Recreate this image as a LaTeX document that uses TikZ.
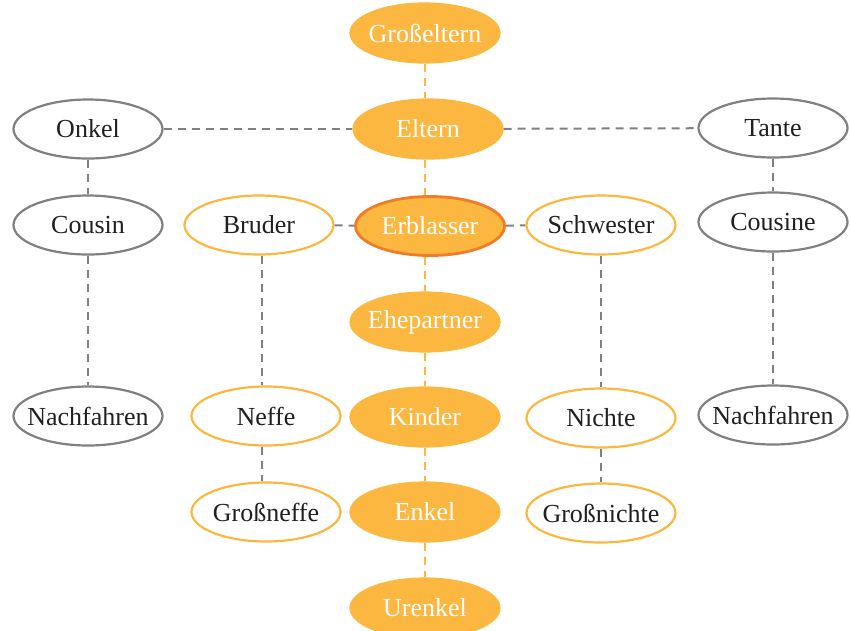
\documentclass[tikz,border=0pt]{standalone}
\usepackage{fontspec}
\setmainfont{Liberation Serif}
\usetikzlibrary{shapes.geometric}
\definecolor{ofill}{HTML}{FBB740}
\definecolor{oline}{HTML}{FBB740}
\definecolor{redline}{HTML}{F07C28}
\definecolor{gline}{HTML}{808080}
\definecolor{tdark}{HTML}{231F20}
\newcommand{\zb}[1]{\makebox[0pt][c]{#1}}
\tikzset{
  pers/.style={ellipse, minimum width=149, minimum height=59, inner sep=0pt, line width=2.2pt, font=\fontsize{26}{30}\selectfont},
  grayp/.style={pers, draw=gline, text=tdark, fill=white},
  openp/.style={pers, draw=oline, text=tdark, fill=white},
  fullp/.style={pers, draw=ofill, fill=ofill, text=white},
  selfp/.style={pers, draw=redline, fill=ofill, text=white, line width=2.8pt},
  gdash/.style={draw=gline, line width=2pt, dash pattern=on 8pt off 6pt},
  odash/.style={draw=oline, line width=2pt, dash pattern=on 8pt off 6pt},
}
\begin{document}
\begin{tikzpicture}[x=1pt,y=-1pt]
\useasboundingbox (0,0) rectangle (851,630);
\node[fullp] (gross) at (425,33) {\zb{Großeltern}};
\node[fullp] (eltern) at (428,129) {\zb{Eltern}};
\node[selfp] (erb) at (430,226) {\zb{Erblasser}};
\node[fullp] (ehe) at (425,322) {\zb{Ehepartner}};
\node[fullp] (kinder) at (425,417) {\zb{Kinder}};
\node[fullp] (enkel) at (425,512) {\zb{Enkel}};
\node[fullp] (urenkel) at (425,608) {\zb{Urenkel}};
\node[grayp] (onkel) at (88,129) {\zb{Onkel}};
\node[grayp] (cousin) at (88,225) {\zb{Cousin}};
\node[grayp] (nachl) at (88,416) {\zb{Nachfahren}};
\node[grayp] (tante) at (773,128) {\zb{Tante}};
\node[grayp] (cousine) at (773,222) {\zb{Cousine}};
\node[grayp] (nachr) at (773,415) {\zb{Nachfahren}};
\node[openp] (bruder) at (259,225) {\zb{Bruder}};
\node[openp] (neffe) at (266,416) {\zb{Neffe}};
\node[openp] (grneffe) at (266,512) {\zb{Großneffe}};
\node[openp] (schw) at (601,225) {\zb{Schwester}};
\node[openp] (nichte) at (601,418) {\zb{Nichte}};
\node[openp] (grnichte) at (601,513) {\zb{Großnichte}};
\coordinate (cx) at (425,0);
\coordinate (bx) at (262,0);
\draw[odash] (gross.south -| cx) -- (eltern.north -| cx);
\draw[odash] (eltern.south -| cx) -- (erb.north -| cx);
\draw[odash] (erb.south -| cx) -- (ehe.north -| cx);
\draw[odash] (ehe) -- (kinder);
\draw[odash] (kinder) -- (enkel);
\draw[odash] (enkel) -- (urenkel);
\draw[gdash] (onkel) -- (eltern);
\draw[gdash] (eltern) -- (tante);
\draw[gdash] (onkel) -- (cousin);
\draw[gdash] (cousin) -- (nachl);
\draw[gdash] (tante) -- (cousine);
\draw[gdash] (cousine) -- (nachr);
\draw[gdash] (bruder) -- (erb);
\draw[gdash] (erb) -- (schw);
\draw[gdash] (bruder.south -| bx) -- (neffe.north -| bx);
\draw[gdash] (neffe.south -| bx) -- (grneffe.north -| bx);
\draw[gdash] (schw) -- (nichte);
\draw[gdash] (nichte) -- (grnichte);
\end{tikzpicture}
\end{document}
